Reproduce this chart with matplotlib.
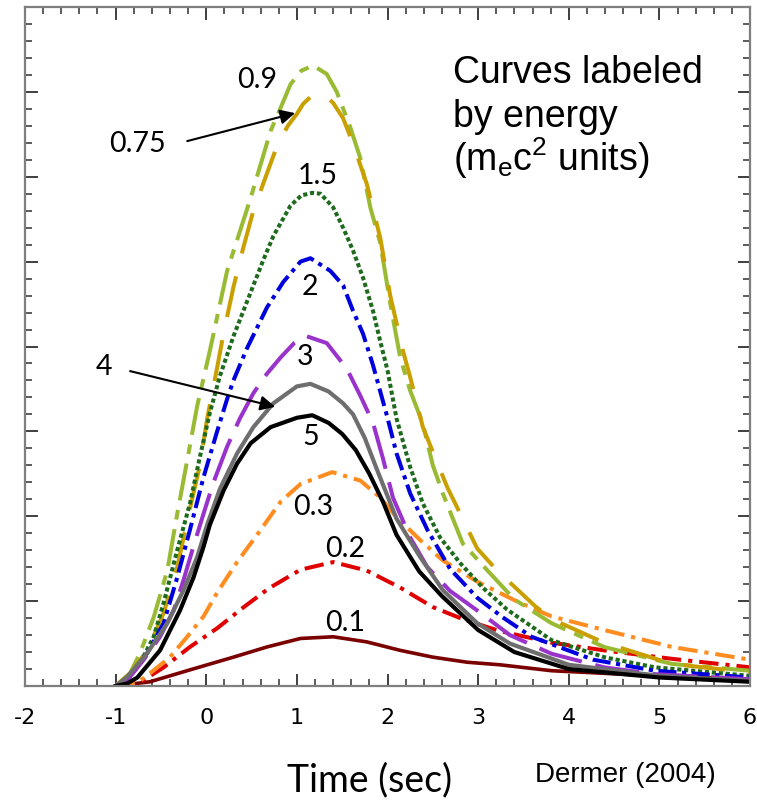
import numpy as np
import matplotlib.pyplot as plt
from matplotlib.ticker import MultipleLocator, NullFormatter

plt.rcParams['axes.unicode_minus'] = False
plt.rcParams['lines.scale_dashes'] = False
plt.rcParams['mathtext.default'] = 'regular'

# curves: time (sec) and flux (arbitrary units, 0-8 axis)
t_09 = [-1, -0.84, -0.73, -0.58, -0.43, -0.32, -0.21, -0.1, 0.04, 0.23, 0.49, 0.71, 0.82, 0.93, 1.05, 1.18, 1.33, 1.44, 1.59, 1.7, 1.81, 1.92, 2.03, 2.14, 2.25, 2.39, 2.5, 2.61, 2.83, 3.13, 3.4, 3.81, 4.39, 5.14, 6.0]
f_09 = [0, 0.15, 0.39, 0.81, 1.36, 2.03, 2.66, 3.3, 3.95, 4.89, 5.75, 6.54, 6.81, 7.09, 7.25, 7.31, 7.21, 7.0, 6.58, 6.22, 5.64, 5.22, 4.51, 3.87, 3.48, 3.09, 2.6, 2.27, 1.68, 1.33, 1.02, 0.74, 0.46, 0.26, 0.18]

t_075 = [-1, -0.84, -0.65, -0.47, -0.32, -0.21, -0.07, 0.01, 0.12, 0.19, 0.3, 0.41, 0.52, 0.67, 0.78, 0.9, 1.0, 1.07, 1.18, 1.3, 1.4, 1.51, 1.62, 1.77, 1.92, 2.03, 2.17, 2.25, 2.39, 2.66, 2.99, 3.21, 3.63, 3.81, 4.39, 5.14, 6.0]
f_075 = [0, 0.15, 0.42, 0.86, 1.4, 1.95, 2.6, 3.15, 3.75, 4.15, 4.7, 5.17, 5.6, 6.04, 6.36, 6.6, 6.74, 6.86, 6.97, 6.97, 6.87, 6.69, 6.39, 5.92, 5.28, 4.6, 3.95, 3.64, 3.05, 2.34, 1.62, 1.36, 0.94, 0.79, 0.51, 0.26, 0.16]

t_15 = [-1, -0.87, -0.73, -0.58, -0.47, -0.32, -0.18, -0.07, 0.04, 0.15, 0.3, 0.41, 0.52, 0.63, 0.74, 0.93, 1.05, 1.17, 1.26, 1.4, 1.51, 1.62, 1.73, 1.84, 1.92, 2.0, 2.1, 2.25, 2.39, 2.58, 2.8, 3.05, 3.32, 3.81, 4.39, 4.95, 6.0]
f_15 = [0, 0.07, 0.27, 0.58, 0.98, 1.6, 2.15, 2.7, 3.22, 3.65, 4.12, 4.42, 4.72, 5.02, 5.3, 5.66, 5.78, 5.81, 5.8, 5.64, 5.4, 5.13, 4.81, 4.42, 4.06, 3.72, 3.15, 2.58, 2.15, 1.75, 1.45, 1.16, 0.9, 0.54, 0.34, 0.22, 0.12]

t_2 = [-1, -0.84, -0.65, -0.47, -0.32, -0.18, -0.03, 0.12, 0.23, 0.3, 0.45, 0.56, 0.67, 0.85, 1.04, 1.15, 1.37, 1.51, 1.62, 1.73, 1.84, 2.0, 2.1, 2.25, 2.44, 2.69, 2.99, 3.27, 3.59, 4.27, 4.95, 6.0]
f_2 = [0, 0.11, 0.39, 0.74, 1.28, 1.84, 2.46, 3.0, 3.38, 3.6, 3.98, 4.22, 4.46, 4.76, 5.0, 5.04, 4.89, 4.72, 4.42, 4.15, 3.78, 3.16, 2.74, 2.27, 1.84, 1.38, 1.04, 0.81, 0.58, 0.31, 0.18, 0.1]

t_3 = [-1, -0.87, -0.69, -0.51, -0.36, -0.25, -0.14, -0.03, 0.08, 0.23, 0.37, 0.52, 0.67, 0.82, 0.97, 1.11, 1.33, 1.55, 1.7, 1.84, 1.95, 2.06, 2.25, 2.44, 2.69, 2.99, 3.35, 3.81, 4.39, 4.95, 6.0]
f_3 = [0, 0.07, 0.31, 0.58, 0.89, 1.25, 1.65, 2.03, 2.4, 2.82, 3.15, 3.45, 3.68, 3.87, 4.04, 4.12, 4.04, 3.74, 3.42, 3.1, 2.68, 2.22, 1.75, 1.4, 1.12, 0.89, 0.6, 0.38, 0.22, 0.14, 0.08]

t_4 = [-1, -0.87, -0.65, -0.43, -0.25, -0.1, 0.01, 0.15, 0.34, 0.52, 0.74, 1.0, 1.15, 1.35, 1.51, 1.62, 1.75, 1.88, 2.1, 2.36, 2.61, 2.99, 3.35, 4.0, 5.0, 6.0]
f_4 = [0, 0.11, 0.39, 0.74, 1.13, 1.52, 1.9, 2.32, 2.74, 3.05, 3.33, 3.53, 3.56, 3.47, 3.33, 3.2, 2.92, 2.56, 1.97, 1.52, 1.13, 0.74, 0.5, 0.25, 0.12, 0.06]

t_5 = [-1, -0.87, -0.76, -0.51, -0.29, -0.14, -0.03, 0.04, 0.19, 0.34, 0.49, 0.71, 1.0, 1.17, 1.35, 1.5, 1.65, 1.8, 1.95, 2.1, 2.35, 2.6, 3.0, 3.4, 4.0, 5.0, 6.0]
f_5 = [0, 0.03, 0.1, 0.42, 0.89, 1.28, 1.64, 1.9, 2.3, 2.62, 2.86, 3.05, 3.16, 3.19, 3.1, 2.97, 2.78, 2.5, 2.17, 1.78, 1.35, 1.06, 0.66, 0.4, 0.2, 0.1, 0.05]

t_03 = [-1, -0.76, -0.62, -0.4, -0.21, -0.03, 0.12, 0.34, 0.56, 0.82, 1.04, 1.39, 1.7, 1.92, 2.1, 2.36, 2.61, 2.99, 3.44, 3.81, 4.39, 5.14, 6.0]
f_03 = [0, 0.04, 0.15, 0.34, 0.58, 0.82, 1.1, 1.46, 1.78, 2.17, 2.38, 2.52, 2.42, 2.22, 1.99, 1.72, 1.48, 1.23, 0.99, 0.82, 0.66, 0.46, 0.31]

t_02 = [-1, -0.69, -0.47, -0.18, 0.12, 0.39, 0.69, 1.04, 1.4, 1.77, 2.14, 2.5, 2.85, 3.23, 3.81, 4.39, 5.14, 6.0]
f_02 = [0, 0.07, 0.22, 0.46, 0.68, 0.91, 1.15, 1.37, 1.46, 1.36, 1.16, 0.93, 0.78, 0.65, 0.51, 0.42, 0.32, 0.22]

t_01 = [-1, -0.62, -0.18, 0.3, 0.67, 1.04, 1.4, 1.77, 2.14, 2.5, 2.88, 3.24, 3.81, 4.95, 6.0]
f_01 = [0, 0.05, 0.19, 0.34, 0.46, 0.56, 0.58, 0.52, 0.42, 0.34, 0.28, 0.25, 0.18, 0.12, 0.08]

xticks = [-2, -1, 0, 1, 2, 3, 4, 5, 6]

fig = plt.figure(figsize=(7.57, 8.07), dpi=100)
ax = fig.add_axes([25/757, 1 - 686/807, 725/757, 679/807])

lw = 2.9
ax.plot(t_01, f_01, color='#7a0000', lw=2.6)
ax.plot(t_02, f_02, color='#e00000', lw=lw, dashes=(14, 5, 3, 5))
ax.plot(t_03, f_03, color='#ff8c1f', lw=lw, dashes=(14, 5, 3, 5))
ax.plot(t_09, f_09, color='#99bb33', lw=lw, dashes=(27, 7, 7, 7))
ax.plot(t_075, f_075, color='#c9a000', lw=lw, dashes=(30, 17))
ax.plot(t_15, f_15, color='#1e6b1e', lw=lw, dashes=(3, 2))
ax.plot(t_2, f_2, color='#0000dd', lw=lw, dashes=(13, 4, 3, 4))
ax.plot(t_3, f_3, color='#9933cc', lw=lw, dashes=(32, 10))
ax.plot(t_4, f_4, color='#6e6e6e', lw=3.0)
ax.plot(t_5, f_5, color='black', lw=3.0)

ax.set_xlim(-2, 6)
ax.set_ylim(0, 8)
ax.set_xticks(xticks)
ax.set_xticklabels([str(v) for v in xticks], fontfamily='DejaVu Sans', fontsize=16)
ax.xaxis.set_minor_locator(MultipleLocator(0.2))
ax.yaxis.set_major_locator(MultipleLocator(1))
ax.yaxis.set_minor_locator(MultipleLocator(0.2))
ax.yaxis.set_major_formatter(NullFormatter())
ax.tick_params(which='both', direction='in', top=True, right=True, color='#303030')
ax.tick_params(which='major', length=9, width=1.3, pad=16)
ax.tick_params(which='minor', length=5, width=1.1)
for s in ax.spines.values():
    s.set_color('#7f7f7f')
    s.set_linewidth(1.6)

lab = dict(fontsize=20.5, fontfamily='Lato', ha='center', va='center')
ax.text(0.56, 7.14, '0.9', **lab)
ax.text(-0.76, 6.38, '0.75', **lab)
ax.text(1.23, 6.01, '1.5', **lab)
ax.text(1.14, 4.70, '2', **lab)
ax.text(1.09, 3.88, '3', **lab)
ax.text(-1.13, 3.76, '4', **lab)
ax.text(1.15, 2.93, '5', **lab)
ax.text(1.18, 2.11, '0.3', **lab)
ax.text(1.53, 1.61, '0.2', **lab)
ax.text(1.53, 0.74, '0.1', **lab)

arr = dict(arrowstyle='-|>', color='black', lw=1.5, mutation_scale=22, shrinkA=0, shrinkB=0)
ax.annotate('', xy=(0.98, 6.75), xytext=(-0.21, 6.42), arrowprops=arr)
ax.annotate('', xy=(0.76, 3.29), xytext=(-0.84, 3.71), arrowprops=arr)

note = dict(fontsize=27, fontfamily='Liberation Sans', ha='left', va='baseline', transform=fig.transFigure)
fig.text(453/757, 1 - 83/807, 'Curves labeled', **note)
fig.text(453/757, 1 - 127/807, 'by energy', **note)
fig.text(453/757, 1 - 171/807, '(m$_e$c$^2$ units)', **note)

fig.text(370/757, 1 - 780/807, 'Time (sec)', fontsize=27, fontfamily='Lato', ha='center', va='center')
fig.text(625/757, 1 - 775/807, 'Dermer (2004)', fontsize=20, fontfamily='Liberation Sans', ha='center', va='center')

fig.savefig('out.png', dpi=100)
